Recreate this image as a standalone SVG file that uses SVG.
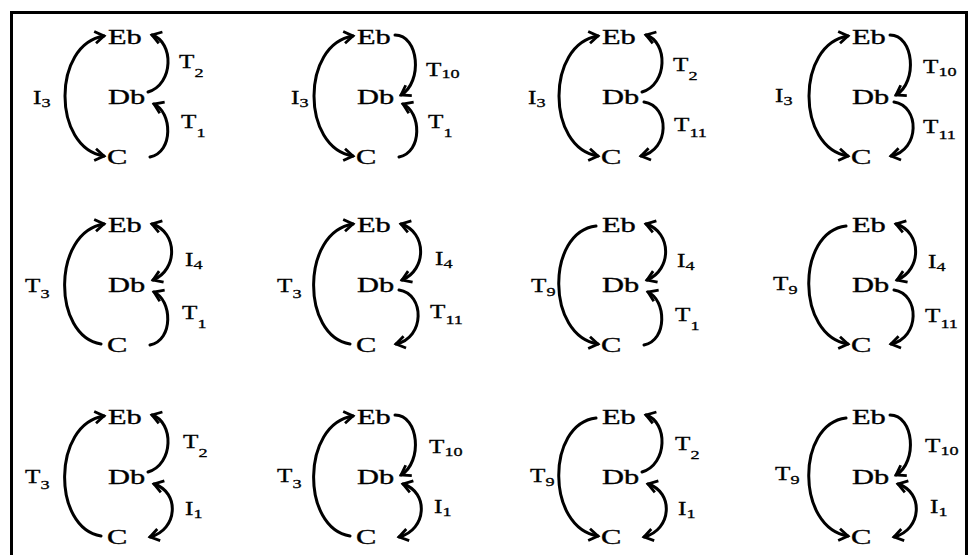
<svg xmlns="http://www.w3.org/2000/svg" width="971" height="555" viewBox="0 0 971 555">
<style>
.n{font-family:"Liberation Serif","Times New Roman",serif;font-size:21px;fill:#000;stroke:#000;stroke-width:0.35}
.l{font-family:"Liberation Serif","Times New Roman",serif;font-size:18px;fill:#000;stroke:#000;stroke-width:0.3}
.s{font-size:13px}
.c{fill:none;stroke:#000;stroke-width:3;stroke-linecap:round}
.a{marker-end:url(#ah)}
.d{marker-start:url(#ah);marker-end:url(#ah)}
</style>
<defs>
<marker id="ah" markerUnits="userSpaceOnUse" viewBox="-12 -8 14 16" markerWidth="14" markerHeight="16" refX="0" refY="0" orient="auto-start-reverse" overflow="visible">
<path d="M-9,-6 L0,0 L-9,6" fill="none" stroke="#000" stroke-width="2.8"/>
</marker>
</defs>
<rect width="971" height="555" fill="#fff"/>
<rect x="11.5" y="12.5" width="955" height="600" fill="none" stroke="#000" stroke-width="3"/>

<!-- nodes -->
<g id="p1-Eb" transform="translate(0,0)"><text class="n" transform="translate(108,44) scale(1.45,1)">Eb</text></g>
<g id="p1-Db" transform="translate(0,0)"><text class="n" transform="translate(108,104) scale(1.45,1)">Db</text></g>
<g id="p1-C" transform="translate(0,0)"><text class="n" transform="translate(107,164) scale(1.45,1)">C</text></g>
<g id="p2-Eb" transform="translate(249,0)"><text class="n" transform="translate(108,44) scale(1.45,1)">Eb</text></g>
<g id="p2-Db" transform="translate(249,0)"><text class="n" transform="translate(108,104) scale(1.45,1)">Db</text></g>
<g id="p2-C" transform="translate(249,0)"><text class="n" transform="translate(107,164) scale(1.45,1)">C</text></g>
<g id="p3-Eb" transform="translate(494,0)"><text class="n" transform="translate(108,44) scale(1.45,1)">Eb</text></g>
<g id="p3-Db" transform="translate(494,0)"><text class="n" transform="translate(108,104) scale(1.45,1)">Db</text></g>
<g id="p3-C" transform="translate(494,0)"><text class="n" transform="translate(107,164) scale(1.45,1)">C</text></g>
<g id="p4-Eb" transform="translate(744,0)"><text class="n" transform="translate(108,44) scale(1.45,1)">Eb</text></g>
<g id="p4-Db" transform="translate(744,0)"><text class="n" transform="translate(108,104) scale(1.45,1)">Db</text></g>
<g id="p4-C" transform="translate(744,0)"><text class="n" transform="translate(107,164) scale(1.45,1)">C</text></g>

<g id="p5-Eb" transform="translate(0,188)"><text class="n" transform="translate(108,44) scale(1.45,1)">Eb</text></g>
<g id="p5-Db" transform="translate(0,188)"><text class="n" transform="translate(108,104) scale(1.45,1)">Db</text></g>
<g id="p5-C" transform="translate(0,188)"><text class="n" transform="translate(107,164) scale(1.45,1)">C</text></g>
<g id="p6-Eb" transform="translate(249,188)"><text class="n" transform="translate(108,44) scale(1.45,1)">Eb</text></g>
<g id="p6-Db" transform="translate(249,188)"><text class="n" transform="translate(108,104) scale(1.45,1)">Db</text></g>
<g id="p6-C" transform="translate(249,188)"><text class="n" transform="translate(107,164) scale(1.45,1)">C</text></g>
<g id="p7-Eb" transform="translate(494,188)"><text class="n" transform="translate(108,44) scale(1.45,1)">Eb</text></g>
<g id="p7-Db" transform="translate(494,188)"><text class="n" transform="translate(108,104) scale(1.45,1)">Db</text></g>
<g id="p7-C" transform="translate(494,188)"><text class="n" transform="translate(107,164) scale(1.45,1)">C</text></g>
<g id="p8-Eb" transform="translate(744,188)"><text class="n" transform="translate(108,44) scale(1.45,1)">Eb</text></g>
<g id="p8-Db" transform="translate(744,188)"><text class="n" transform="translate(108,104) scale(1.45,1)">Db</text></g>
<g id="p8-C" transform="translate(744,188)"><text class="n" transform="translate(107,164) scale(1.45,1)">C</text></g>

<g id="p9-Eb" transform="translate(0,380)"><text class="n" transform="translate(108,44) scale(1.45,1)">Eb</text></g>
<g id="p9-Db" transform="translate(0,380)"><text class="n" transform="translate(108,104) scale(1.45,1)">Db</text></g>
<g id="p9-C" transform="translate(0,380)"><text class="n" transform="translate(107,164) scale(1.45,1)">C</text></g>
<g id="p10-Eb" transform="translate(249,380)"><text class="n" transform="translate(108,44) scale(1.45,1)">Eb</text></g>
<g id="p10-Db" transform="translate(249,380)"><text class="n" transform="translate(108,104) scale(1.45,1)">Db</text></g>
<g id="p10-C" transform="translate(249,380)"><text class="n" transform="translate(107,164) scale(1.45,1)">C</text></g>
<g id="p11-Eb" transform="translate(494,380)"><text class="n" transform="translate(108,44) scale(1.45,1)">Eb</text></g>
<g id="p11-Db" transform="translate(494,380)"><text class="n" transform="translate(108,104) scale(1.45,1)">Db</text></g>
<g id="p11-C" transform="translate(494,380)"><text class="n" transform="translate(107,164) scale(1.45,1)">C</text></g>
<g id="p12-Eb" transform="translate(744,380)"><text class="n" transform="translate(108,44) scale(1.45,1)">Eb</text></g>
<g id="p12-Db" transform="translate(744,380)"><text class="n" transform="translate(108,104) scale(1.45,1)">Db</text></g>
<g id="p12-C" transform="translate(744,380)"><text class="n" transform="translate(107,164) scale(1.45,1)">C</text></g>

<!-- connectors -->
<g id="connectors">
 <g transform="translate(0,0)">
  <path class="c d" d="M104,36 C52,44 52,148 104,156"/>
  <path class="c a" d="M148,92 C174,84 174,42 152,35"/>
  <path class="c a" d="M150,157 C174,152 172,112 154,104"/>
  <text class="l" transform="translate(33,104) scale(1.4,1)">I<tspan class="s" dy="3">3</tspan></text>
  <text class="l" transform="translate(179,68) scale(1.4,1)">T<tspan class="s" dy="9">2</tspan></text>
  <text class="l" transform="translate(181,128) scale(1.4,1)">T<tspan class="s" dy="9">1</tspan></text>
 </g>
 <g transform="translate(249,0)">
  <path class="c d" d="M104,36 C52,44 52,148 104,156"/>
  <path class="c a" d="M146,35 C170,35 174,82 152,95"/>
  <path class="c a" d="M150,157 C174,152 172,112 154,104"/>
  <text class="l" transform="translate(42,104) scale(1.4,1)">I<tspan class="s" dy="3">3</tspan></text>
  <text class="l" transform="translate(177,76) scale(1.4,1)">T<tspan class="s" dy="2">10</tspan></text>
  <text class="l" transform="translate(179,128) scale(1.4,1)">T<tspan class="s" dy="9">1</tspan></text>
 </g>
 <g transform="translate(494,0)">
  <path class="c d" d="M104,36 C52,44 52,148 104,156"/>
  <path class="c a" d="M148,92 C174,84 174,42 152,35"/>
  <path class="c a" d="M150,102 C176,106 176,150 147,156"/>
  <text class="l" transform="translate(34,104) scale(1.4,1)">I<tspan class="s" dy="3">3</tspan></text>
  <text class="l" transform="translate(179,71) scale(1.4,1)">T<tspan class="s" dy="9">2</tspan></text>
  <text class="l" transform="translate(180,131) scale(1.4,1)">T<tspan class="s" dy="6">11</tspan></text>
 </g>
 <g transform="translate(744,0)">
  <path class="c d" d="M104,36 C52,44 52,148 104,156"/>
  <path class="c a" d="M146,35 C170,35 174,82 152,95"/>
  <path class="c a" d="M150,102 C176,106 176,150 147,156"/>
  <text class="l" transform="translate(31,102) scale(1.4,1)">I<tspan class="s" dy="3">3</tspan></text>
  <text class="l" transform="translate(179,73) scale(1.4,1)">T<tspan class="s" dy="3">10</tspan></text>
  <text class="l" transform="translate(179,133) scale(1.4,1)">T<tspan class="s" dy="6">11</tspan></text>
 </g>

 <g transform="translate(0,188)">
  <path class="c a" d="M101,156 C52,148 52,44 104,36"/>
  <path class="c d" d="M152,36 C178,44 178,82 153,92"/>
  <path class="c a" d="M150,157 C174,152 172,112 154,104"/>
  <text class="l" transform="translate(25,104) scale(1.4,1)">T<tspan class="s" dy="6">3</tspan></text>
  <text class="l" transform="translate(185,78) scale(1.4,1)">I<tspan class="s" dy="3">4</tspan></text>
  <text class="l" transform="translate(182,131) scale(1.4,1)">T<tspan class="s" dy="9">1</tspan></text>
 </g>
 <g transform="translate(249,188)">
  <path class="c a" d="M101,156 C52,148 52,44 104,36"/>
  <path class="c d" d="M152,36 C178,44 178,82 153,92"/>
  <path class="c a" d="M150,102 C176,106 176,150 147,156"/>
  <text class="l" transform="translate(28,104) scale(1.4,1)">T<tspan class="s" dy="6">3</tspan></text>
  <text class="l" transform="translate(186,77) scale(1.4,1)">I<tspan class="s" dy="3">4</tspan></text>
  <text class="l" transform="translate(181,130) scale(1.4,1)">T<tspan class="s" dy="6">11</tspan></text>
 </g>
 <g transform="translate(494,188)">
  <path class="c a" d="M102,38 C52,44 52,148 104,156"/>
  <path class="c d" d="M152,36 C178,44 178,82 153,92"/>
  <path class="c a" d="M150,157 C174,152 172,112 154,104"/>
  <text class="l" transform="translate(37,104) scale(1.4,1)">T<tspan class="s" dy="4">9</tspan></text>
  <text class="l" transform="translate(183,79) scale(1.4,1)">I<tspan class="s" dy="3">4</tspan></text>
  <text class="l" transform="translate(181,133) scale(1.4,1)">T<tspan class="s" dy="9">1</tspan></text>
 </g>
 <g transform="translate(744,188)">
  <path class="c a" d="M102,38 C52,44 52,148 104,156"/>
  <path class="c d" d="M152,36 C178,44 178,82 153,92"/>
  <path class="c a" d="M150,102 C176,106 176,150 147,156"/>
  <text class="l" transform="translate(29,102) scale(1.4,1)">T<tspan class="s" dy="4">9</tspan></text>
  <text class="l" transform="translate(184,80) scale(1.4,1)">I<tspan class="s" dy="3">4</tspan></text>
  <text class="l" transform="translate(181,134) scale(1.4,1)">T<tspan class="s" dy="6">11</tspan></text>
 </g>

 <g transform="translate(0,380)">
  <path class="c a" d="M101,156 C52,148 52,44 104,36"/>
  <path class="c a" d="M148,92 C174,84 174,42 152,35"/>
  <path class="c d" d="M154,104 C180,112 178,150 150,157"/>
  <text class="l" transform="translate(25,103) scale(1.4,1)">T<tspan class="s" dy="6">3</tspan></text>
  <text class="l" transform="translate(183,68) scale(1.4,1)">T<tspan class="s" dy="9">2</tspan></text>
  <text class="l" transform="translate(185,135) scale(1.4,1)">I<tspan class="s" dy="3">1</tspan></text>
 </g>
 <g transform="translate(249,380)">
  <path class="c a" d="M101,156 C52,148 52,44 104,36"/>
  <path class="c a" d="M146,35 C170,35 174,82 152,95"/>
  <path class="c d" d="M154,104 C180,112 178,150 150,157"/>
  <text class="l" transform="translate(28,102) scale(1.4,1)">T<tspan class="s" dy="6">3</tspan></text>
  <text class="l" transform="translate(180,73) scale(1.4,1)">T<tspan class="s" dy="3">10</tspan></text>
  <text class="l" transform="translate(185,133) scale(1.4,1)">I<tspan class="s" dy="3">1</tspan></text>
 </g>
 <g transform="translate(494,380)">
  <path class="c a" d="M102,38 C52,44 52,148 104,156"/>
  <path class="c a" d="M148,92 C174,84 174,42 152,35"/>
  <path class="c d" d="M154,104 C180,112 178,150 150,157"/>
  <text class="l" transform="translate(36,102) scale(1.4,1)">T<tspan class="s" dy="4">9</tspan></text>
  <text class="l" transform="translate(181,70) scale(1.4,1)">T<tspan class="s" dy="9">2</tspan></text>
  <text class="l" transform="translate(184,135) scale(1.4,1)">I<tspan class="s" dy="3">1</tspan></text>
 </g>
 <g transform="translate(744,380)">
  <path class="c a" d="M102,38 C52,44 52,148 104,156"/>
  <path class="c a" d="M146,35 C170,35 174,82 152,95"/>
  <path class="c d" d="M154,104 C180,112 178,150 150,157"/>
  <text class="l" transform="translate(31,100) scale(1.4,1)">T<tspan class="s" dy="4">9</tspan></text>
  <text class="l" transform="translate(181,72) scale(1.4,1)">T<tspan class="s" dy="3">10</tspan></text>
  <text class="l" transform="translate(186,133) scale(1.4,1)">I<tspan class="s" dy="3">1</tspan></text>
 </g>
</g>
</svg>
